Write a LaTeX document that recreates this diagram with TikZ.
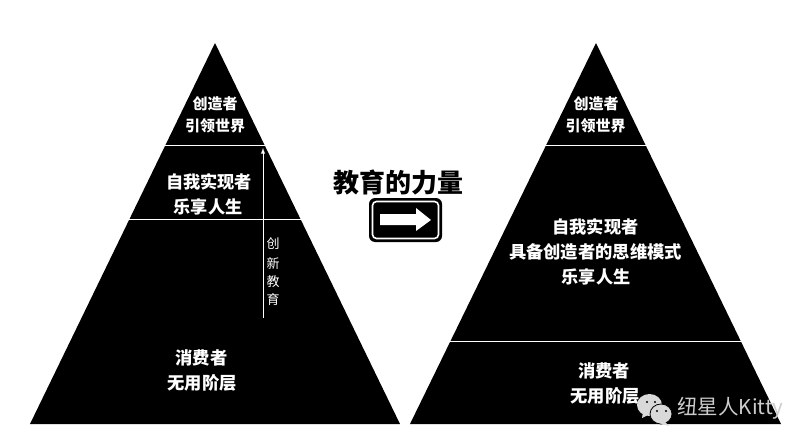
\documentclass[tikz,border=0pt]{standalone}
\usepackage{fontspec}
\setmainfont{Noto Sans CJK SC}
\usetikzlibrary{positioning}
\begin{document}
\begin{tikzpicture}[x=1pt, y=-1pt, > = latex]
    \tikzset{
      tiertext/.style={text=white, font=\bfseries\fontsize{#1}{#1}\selectfont, inner sep=0pt},
      sidetext/.style={text=white, font=\fontsize{13}{13}\selectfont, inner sep=0pt},
      tier/.style={draw=white, line width=0.9pt},
      brandtext/.style={text=black!20, font=\fontsize{20.5}{20.5}\selectfont, inner sep=0pt}
    }
    \useasboundingbox (0,0) rectangle (809,447);
    % pyramids
    \fill (215,43) -- (400,424) -- (30,424) -- cycle;
    \fill (596,43) -- (781,424) -- (410,424) -- cycle;
    % tier lines
    \foreach \name/\xa/\xb/\yy in {la/165/265/145, lb/129/301/219, ra/545/647/145, rb/449/742/341} {
      \coordinate (\name w) at (\xa,\yy);
      \coordinate (\name e) at (\xb,\yy);
      \draw[tier] (\name w) -- (\name e);
    }
    % left labels
    \foreach \name/\xx/\yy/\size/\txt in {creator/215/104/15/创造者, lead/215/126/15/引领世界, self/209/182/17.2/自我实现者, joy/208/207/17.2/乐享人生, cons/201.5/358/17.3/消费者, use/202/383/17.3/无用阶层} {
      \node (left\name) [tiertext=\size] at (\xx,\yy) {\txt};
    }
    % right labels
    \foreach \name/\xx/\yy/\size/\txt in {creator/596/104/15/创造者, lead/595.5/126/15/引领世界, self/595.5/226.5/17.2/自我实现者, think/595.5/251.5/17.3/具备创造者的思维模式, joy/596/276.5/17.2/乐享人生, cons/604/371/17.3/消费者, use/605/396/17.3/无用阶层} {
      \node (right\name) [tiertext=\size] at (\xx,\yy) {\txt};
    }
    % rising arrow
    \coordinate (risefoot) at (263,318);
    \coordinate (risetop) at (263,148);
    \draw[->, white, line width=0.9pt] (risefoot) -- (risetop);
    \foreach[count=\i] \yy/\txt in {244/创, 263/新, 282/教, 300/育} {
      \node (side\i) [sidetext] at (273,\yy) {\txt};
    }
    % title and sign
    \node (title) [font=\bfseries\fontsize{26}{26}\selectfont, inner sep=0pt] at (398,182) {教育的力量};
    \fill[rounded corners=6pt] (369,198) rectangle (442,242);
    \draw[white, line width=1.6pt, rounded corners=4pt] (372.5,201.5) rectangle (438.5,238.5);
    \fill[white] (380,214) -- (416,214) -- (416,208) -- (431,220) -- (416,231) -- (416,225) -- (380,225) -- cycle;
    % watermark
    \fill[black!15] (649.5,405) ellipse (12.5 and 11);
    \fill[black!15] (643,412) -- (642,418) -- (650,414) -- cycle;
    \filldraw[fill=black!15, draw=black, line width=0.8pt] (661,414) ellipse (11 and 10);
    \fill[black!15] (665,422) -- (669,426) -- (659,423) -- cycle;
    \fill (647,402) circle (1.2) (655,402) circle (1.2) (657,411) circle (1.2) (666,411) circle (1.2);
    \node (brand) [brandtext] at (730.5,408) {纽星人Kitty};
\end{tikzpicture}
\end{document}
